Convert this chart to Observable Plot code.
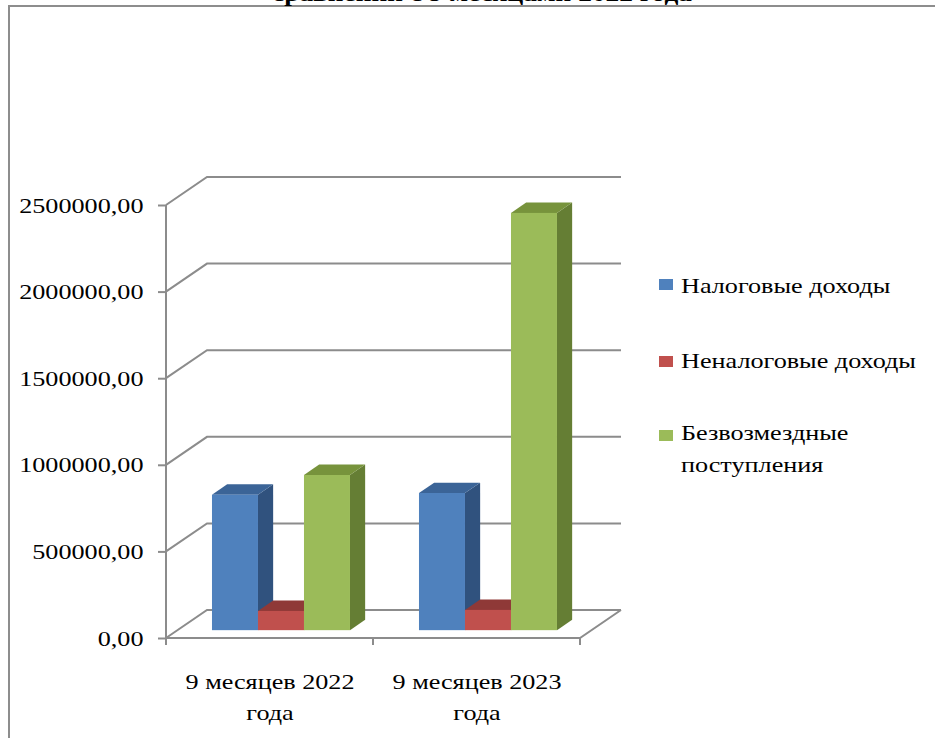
<!DOCTYPE html>
<html><head><meta charset="utf-8">
<script src="https://cdn.jsdelivr.net/npm/d3@7"></script>
<script src="https://cdn.jsdelivr.net/npm/@observablehq/plot@0.6"></script>
<style>
html,body{margin:0;padding:0;background:#fff;overflow:hidden;width:935px;height:738px;}
#wrap{position:relative;width:935px;height:738px;overflow:hidden;font-family:"Liberation Serif","Times New Roman",serif;color:#000;}
#frame{position:absolute;left:8px;top:5px;width:1000px;height:800px;border-left:2px solid #8d8d8d;border-top:2px solid #8d8d8d;}
#chart{position:absolute;left:0;top:0;}
#title{position:absolute;left:482px;top:-18px;font-weight:bold;font-size:23px;line-height:24px;white-space:nowrap;transform:translateX(-50%) scaleX(1.19);}
.legend-item{position:absolute;left:681px;width:215px;font-size:22px;line-height:32px;transform:scaleX(1.19);transform-origin:0 0;}
.swatch{position:absolute;left:659px;width:14px;height:11px;}
</style></head>
<body><div id="wrap"><div id="frame"></div><div id="chart"></div><div id="legend"></div><div id="title"></div></div>
<script>
// ---- data ----
const categories = ["9 месяцев 2022 года", "9 месяцев 2023 года"];
const seriesNames = ["Налоговые доходы", "Неналоговые доходы", "Безвозмездные поступления"];
const taxIncome = [782000, 792000];
const nonTaxIncome = [111000, 117000];
const grants = [896000, 2409000];
const yTicks = [0, 500000, 1000000, 1500000, 2000000, 2500000];
const titleText = "сравнении с 9 месяцами 2022 года";

// ---- palette ----
const frontColors = ["#4f81bd", "#c0504d", "#9bbb59"];
const topColors = ["#3b6497", "#8f3937", "#77933c"];
const sideColors = ["#30527e", "#7c302e", "#657e34"];

const seriesValues = [taxIncome, nonTaxIncome, grants];
const rows = [];
categories.forEach((c, ci) => seriesNames.forEach((s, si) => rows.push({category: c, series: s, si, value: seriesValues[si][ci]})));

// 3D projection constants (pixels)
const DX = 41, DY = 28, F = 0.28, D = 0.37;
const STRETCH = 1.19;

function scene(index, scales, values, dims) {
  const x = scales.x, y = scales.y;
  const x0 = dims.marginLeft, x1 = dims.width - dims.marginRight;
  const y0 = y(0);
  const g = d3.create("svg:g");
  const grid = g.append("g").attr("fill", "none").attr("stroke", "#8c8c8c").attr("stroke-width", 2);
  for (const t of yTicks) {
    const yy = y(t);
    grid.append("path").attr("d", `M${x0},${yy}L${x0 + DX},${yy - DY}H${x1 + DX}`);
  }
  grid.append("path").attr("d", `M${x0},${y0}H${x1}L${x1 + DX},${y0 - DY}`);
  grid.append("path").attr("d", `M${x0},${y(yTicks[yTicks.length - 1])}V${y0}`);
  const bw = (x1 - x0) / categories.length;
  for (let i = 0; i <= categories.length; i++) grid.append("path").attr("d", `M${x0 + i * bw},${y0}v7`);
  const w = bw / 4.5;
  const ox = D * DX, oy = D * DY;
  const bars = g.append("g");
  for (const r of rows) {
    const xl = x(r.category) + 0.75 * w + r.si * w + F * DX;
    const xr = xl + w;
    const yb = y(0) - F * DY;
    const yt = y(r.value) - F * DY;
    bars.append("path").attr("fill", sideColors[r.si])
      .attr("d", `M${xr},${yt}L${xr + ox},${yt - oy}L${xr + ox},${yb - oy}L${xr},${yb}Z`);
    bars.append("path").attr("fill", topColors[r.si])
      .attr("d", `M${xl},${yt}L${xr},${yt}L${xr + ox},${yt - oy}L${xl + ox},${yt - oy}Z`);
    bars.append("rect").attr("fill", frontColors[r.si])
      .attr("x", xl).attr("y", yt).attr("width", w).attr("height", yb - yt);
  }
  return g.node();
}

const chart = Plot.plot({
  width: 935,
  height: 738,
  marginTop: 205,
  marginBottom: 100,
  marginLeft: 166,
  marginRight: 355,
  style: "font-family:'Liberation Serif','Times New Roman',serif;font-size:22px;background:transparent;overflow:visible;color:#000;",
  x: {type: "band", domain: categories, padding: 0},
  y: {domain: [0, 2500000]},
  marks: [
    scene,
    Plot.axisY({ticks: yTicks, tickSize: 8, tickPadding: 15, stroke: "#8c8c8c", strokeWidth: 2, fill: "#000", fontSize: 22, label: null,
      tickFormat: d => d3.format(".2f")(d).replace(".", ",")}),
    Plot.axisX({tickSize: 0, tickPadding: 28, lineHeight: 1.41, fill: "#000", fontSize: 22, label: null,
      tickFormat: d => d.replace(/ года$/, "\nгода")})
  ]
});
document.getElementById("chart").appendChild(chart);

// horizontally stretch the glyphs like the reference picture
chart.querySelectorAll("text").forEach(t => {
  const tr = t.getAttribute("transform");
  if (tr) t.setAttribute("transform", tr + ` scale(${STRETCH},1)`);
  else {
    const x = +t.getAttribute("x") || 0, y = +t.getAttribute("y") || 0;
    t.setAttribute("transform", `translate(${x},${y}) scale(${STRETCH},1) translate(${-x},${-y})`);
  }
});

// legend
const legend = document.getElementById("legend");
const textTops = [270, 345, 417];
const swatchTops = [279, 356, 430];
seriesNames.forEach((s, i) => {
  const sw = document.createElement("div");
  sw.className = "swatch";
  sw.style.top = swatchTops[i] + "px";
  sw.style.background = frontColors[i];
  legend.appendChild(sw);
  const t = document.createElement("div");
  t.className = "legend-item";
  t.style.top = textTops[i] + "px";
  t.textContent = s;
  legend.appendChild(t);
});
document.getElementById("title").textContent = titleText;
</script>
</body></html>
